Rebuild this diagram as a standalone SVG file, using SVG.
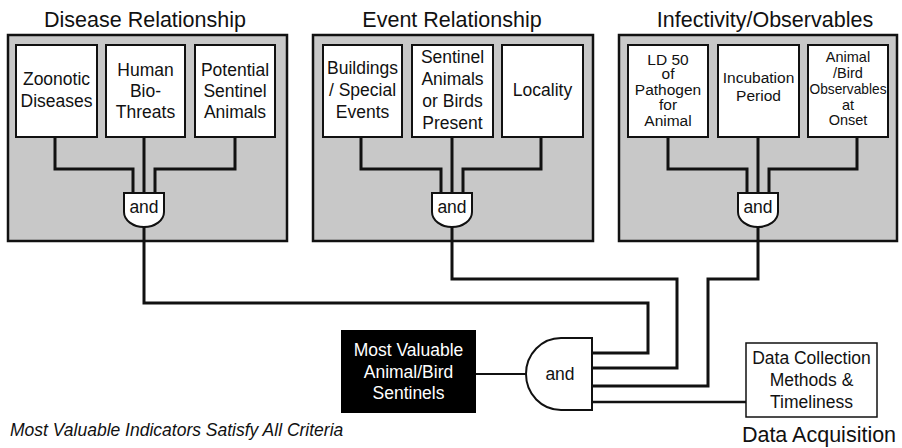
<svg xmlns="http://www.w3.org/2000/svg" width="902" height="448" viewBox="0 0 902 448">
  <style>
    .panel { fill: #c8c8c8; stroke: #111; stroke-width: 2.5; }
    .box { fill: #fff; stroke: #111; stroke-width: 2; }
    .gate { fill: #fff; stroke: #111; stroke-width: 2; }
    .wire { fill: none; stroke: #111; stroke-width: 3; stroke-linejoin: miter; }
    .t { font-family: "Liberation Sans", Arial, sans-serif; fill: #111; text-anchor: middle; }
    .title { font-size: 21.5px; }
    .lbl { font-size: 17.5px; }
    .small { font-size: 15.5px; }
    .tiny { font-size: 14.5px; }
    .white { fill: #fff; }
  </style>

  <!-- group panels -->
  <g id="panel-disease">
    <text class="t title" x="145" y="26.5">Disease Relationship</text>
    <rect class="panel" x="8" y="35" width="279" height="206"/>
  </g>
  <g id="panel-event">
    <text class="t title" x="452" y="26.5">Event Relationship</text>
    <rect class="panel" x="313" y="35" width="280" height="206"/>
  </g>
  <g id="panel-infectivity">
    <text class="t title" x="765" y="26.5">Infectivity/Observables</text>
    <rect class="panel" x="619" y="35" width="278" height="206"/>
  </g>

  <!-- connectors -->
  <g id="connectors">
    <!-- Disease panel inputs -->
    <path class="wire" d="M55,137 V169 H133 V193"/>
    <path class="wire" d="M144,137 V193"/>
    <path class="wire" d="M235,137 V169 H155 V193"/>
    <!-- Event panel inputs -->
    <path class="wire" d="M361,137 V169 H441 V193"/>
    <path class="wire" d="M452,137 V193"/>
    <path class="wire" d="M541,137 V169 H463 V193"/>
    <!-- Infectivity panel inputs -->
    <path class="wire" d="M668,137 V169 H747 V193"/>
    <path class="wire" d="M758,137 V193"/>
    <path class="wire" d="M857,137 V169 H769 V193"/>
    <!-- panel outputs into final gate -->
    <path class="wire" d="M144,226 V303 H648 V353 H592"/>
    <path class="wire" d="M452,226 V279 H677 V368 H592"/>
    <path class="wire" d="M758,226 V279 H708 V386 H592"/>
    <path class="wire" d="M746,402 H592" style="stroke-width:2.5"/>
    <path class="wire" d="M476,374 H526" style="stroke-width:2"/>
  </g>

  <!-- Disease Relationship nodes -->
  <g id="zoonotic">
    <rect class="box" x="16" y="45" width="81" height="92"/>
    <text class="t lbl" x="56.5" y="84.5">Zoonotic</text>
    <text class="t lbl" x="56.5" y="106.5">Diseases</text>
  </g>
  <g id="human-biothreats">
    <rect class="box" x="106" y="45" width="79" height="92"/>
    <text class="t lbl" x="145.5" y="76">Human</text>
    <text class="t lbl" x="145.5" y="97">Bio-</text>
    <text class="t lbl" x="145.5" y="118">Threats</text>
  </g>
  <g id="potential-sentinel">
    <rect class="box" x="195" y="45" width="80" height="92"/>
    <text class="t lbl" x="235" y="76">Potential</text>
    <text class="t lbl" x="235" y="97">Sentinel</text>
    <text class="t lbl" x="235" y="118">Animals</text>
  </g>
  <g id="gate-disease">
    <path class="gate" d="M124,193 H164 V212 A20,15 0 0 1 124,212 Z"/>
    <text class="t lbl" x="144" y="213">and</text>
  </g>

  <!-- Event Relationship nodes -->
  <g id="buildings">
    <rect class="box" x="323" y="45" width="79" height="92"/>
    <text class="t lbl" x="362.5" y="74">Buildings</text>
    <text class="t lbl" x="362.5" y="96">/ Special</text>
    <text class="t lbl" x="362.5" y="118">Events</text>
  </g>
  <g id="sentinel-present">
    <rect class="box" x="412" y="45" width="81" height="92"/>
    <text class="t lbl" x="452.5" y="63">Sentinel</text>
    <text class="t lbl" x="452.5" y="85">Animals</text>
    <text class="t lbl" x="452.5" y="107">or Birds</text>
    <text class="t lbl" x="452.5" y="129">Present</text>
  </g>
  <g id="locality">
    <rect class="box" x="502" y="45" width="81" height="92"/>
    <text class="t lbl" x="542.5" y="96">Locality</text>
  </g>
  <g id="gate-event">
    <path class="gate" d="M432,193 H472 V212 A20,15 0 0 1 432,212 Z"/>
    <text class="t lbl" x="452" y="213">and</text>
  </g>

  <!-- Infectivity/Observables nodes -->
  <g id="ld50">
    <rect class="box" x="628" y="45" width="80" height="92"/>
    <text class="t small" x="668" y="65">LD 50</text>
    <text class="t small" x="668" y="79">of</text>
    <text class="t small" x="668" y="95">Pathogen</text>
    <text class="t small" x="668" y="110">for</text>
    <text class="t small" x="668" y="126">Animal</text>
  </g>
  <g id="incubation">
    <rect class="box" x="718" y="45" width="81" height="92"/>
    <text class="t small" x="758.5" y="83">Incubation</text>
    <text class="t small" x="758.5" y="101">Period</text>
  </g>
  <g id="observables">
    <rect class="box" x="808" y="45" width="80" height="92"/>
    <text class="t tiny" x="848" y="62">Animal</text>
    <text class="t tiny" x="848" y="78">/Bird</text>
    <text class="t tiny" x="848" y="94" textLength="77" lengthAdjust="spacingAndGlyphs">Observables</text>
    <text class="t tiny" x="848" y="110">at</text>
    <text class="t tiny" x="848" y="125">Onset</text>
  </g>
  <g id="gate-infectivity">
    <path class="gate" d="M738,193 H778 V212 A20,15 0 0 1 738,212 Z"/>
    <text class="t lbl" x="758" y="213">and</text>
  </g>

  <!-- result and final combination -->
  <g id="sentinels">
    <rect x="341" y="330" width="135" height="83" fill="#000"/>
    <text class="t lbl white" x="408.5" y="356">Most Valuable</text>
    <text class="t lbl white" x="408.5" y="378">Animal/Bird</text>
    <text class="t lbl white" x="408.5" y="399">Sentinels</text>
  </g>
  <g id="gate-final">
    <path class="gate" d="M592,338 H561 A35,36 0 0 0 561,410 H592 Z"/>
    <text class="t lbl" x="560" y="380">and</text>
  </g>
  <g id="data-collection">
    <rect class="box" x="746" y="343" width="131" height="74" style="stroke-width:1.5"/>
    <text class="t lbl" x="811.5" y="364">Data Collection</text>
    <text class="t lbl" x="811.5" y="386">Methods &amp;</text>
    <text class="t lbl" x="811.5" y="408">Timeliness</text>
    <text class="t title" x="819" y="442">Data Acquisition</text>
  </g>

  <text class="t" x="10" y="436" style="font-size:17.5px; font-style:italic; text-anchor:start">Most Valuable Indicators Satisfy All Criteria</text>
</svg>
